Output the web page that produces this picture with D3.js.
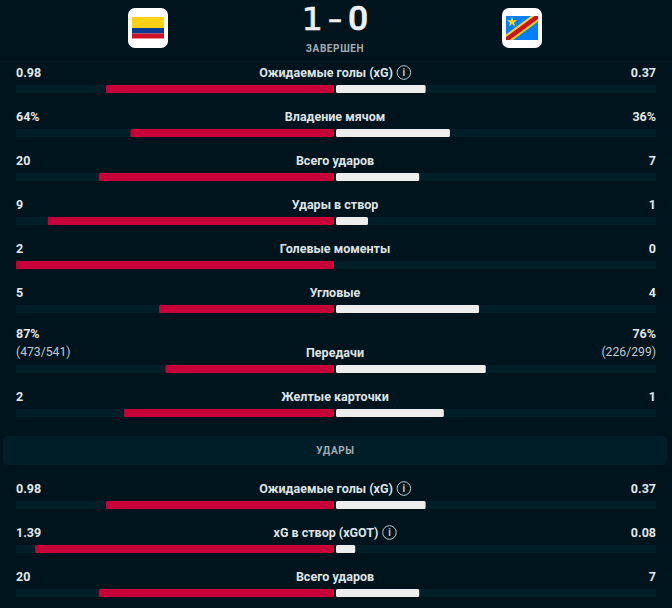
<!DOCTYPE html>
<html>
<head>
<meta charset="utf-8">
<style>
html, body { margin: 0; padding: 0; background: #00141e; overflow: hidden; }
text { font-family: Roboto, sans-serif; }
.val { font-size: 12.5px; font-weight: 700; fill: #e4e8ea; }
.sub { font-size: 12.2px; font-weight: 400; fill: #c3cacd; }
.name { font-size: 12.5px; font-weight: 700; fill: #dfe4e6; text-anchor: middle; }
.caps { font-size: 10px; font-weight: 700; fill: #a3adb2; text-anchor: middle; letter-spacing: 0.6px; }
.score { font-size: 33px; font-weight: 500; fill: #eef1f2; stroke: #eef1f2; stroke-width: 0.5px; text-anchor: middle; }
</style>
</head>
<body>
<svg id="chart" width="672" height="608"></svg>
<script src="https://d3js.org/d3.v7.min.js"></script>
<script>
var scoreParts = ["1", "-", "0"];
var status = "ЗАВЕРШЕН";
var sectionTitle = "УДАРЫ";

var names = ["Ожидаемые голы (xG)", "Владение мячом", "Всего ударов", "Удары в створ", "Голевые моменты", "Угловые", "Передачи", "Желтые карточки", "Ожидаемые голы (xG)", "xG в створ (xGOT)", "Всего ударов"];
var homeLabels = ["0.98", "64%", "20", "9", "2", "5", "87%", "2", "0.98", "1.39", "20"];
var awayLabels = ["0.37", "36%", "7", "1", "0", "4", "76%", "1", "0.37", "0.08", "7"];
var homeSub = ["", "", "", "", "", "", "(473/541)", "", "", "", ""];
var awaySub = ["", "", "", "", "", "", "(226/299)", "", "", "", ""];
// share of each half of the track, percent
var homeShare = [71.7, 64, 74, 90, 100, 55, 53, 66, 71.7, 94, 74];
var awayShare = [28, 35.6, 26, 10, 0, 44.7, 46.8, 33.7, 28, 6, 26];
var hasInfo = [true, false, false, false, false, false, false, false, true, true, false];
var sectionBefore = 8; // row index where the "shots" block starts

var svg = d3.select("#chart");
var centerX = 335;
var homeX = d3.scaleLinear().domain([0, 100]).range([334, 16]);
var awayX = d3.scaleLinear().domain([0, 100]).range([336, 656]);

// header
function roundedCard(x) {
  return svg.append("rect").attr("x", x).attr("y", 8).attr("width", 40).attr("height", 40).attr("rx", 7).attr("fill", "#fff");
}
roundedCard(128);
roundedCard(502);

var colombia = [["#fdd116", 17, 11], ["#0b3a94", 28, 5.5], ["#ce1126", 33.5, 4.5], ["#ef8a98", 38, 1]];
svg.selectAll(".co").data(colombia).enter().append("rect")
  .attr("x", 132).attr("width", 32)
  .attr("y", d => d[1]).attr("height", d => d[2])
  .attr("fill", d => d[0]);

svg.append("rect").attr("x", 506).attr("y", 16).attr("width", 32).attr("height", 24).attr("fill", "#007fff");
svg.append("polygon").attr("points", "506,34.5 531,16 538,16 538,21.5 513,40 506,40").attr("fill", "#f7d618");
svg.append("polygon").attr("points", "506,37 534.5,16 538,16 538,19 509.5,40 506,40").attr("fill", "#ce1021");
var star = d3.symbol().type(d3.symbolStar).size(34);
svg.append("path").attr("d", star()).attr("transform", "translate(512,22)").attr("fill", "#f7d618");

// score, each glyph placed on its own: the "1" needs a foot serif, the "0" no dot
svg.append("text").attr("class", "score").attr("transform", "translate(311.5,30) scale(1.1,1)")
  .style("font-family", "'DejaVu Sans Mono', monospace").style("font-size", "32px").style("font-weight", 400).text(scoreParts[0]);
svg.append("text").attr("class", "score").attr("transform", "translate(335,30) scale(1.35,1)")
  .style("font-family", "'DejaVu Sans Mono', monospace").style("font-size", "32px").style("font-weight", 400).text(scoreParts[1]);
svg.append("text").attr("class", "score").attr("transform", "translate(358,30) scale(1.08,1)").text(scoreParts[2]);

svg.append("text").attr("class", "caps").attr("x", centerX).attr("y", 52).text(status);
svg.append("line").attr("x1", 0).attr("x2", 672).attr("y1", 61.5).attr("y2", 61.5).attr("stroke", "#001a25");

// rows
var rowStep = 44, subExtra = 16, sectionExtra = 48;
var barH = 8;
var rowY = [];
names.reduce(function (y, n, i) {
  if (homeSub[i]) y += subExtra;
  if (i === sectionBefore) y += sectionExtra;
  rowY.push(y);
  return y + rowStep;
}, 85);

var panelY = rowY[sectionBefore] - 65;
svg.append("rect").attr("x", 3).attr("y", panelY).attr("width", 664).attr("height", 29).attr("rx", 5).attr("fill", "#001e28");
svg.append("text").attr("class", "caps").attr("x", centerX + 0.5).attr("y", panelY + 18).text(sectionTitle);

var rows = svg.selectAll(".row").data(names).enter().append("g")
  .attr("class", "row")
  .attr("transform", (d, i) => "translate(0," + rowY[i] + ")");

rows.append("rect").attr("x", homeX(100)).attr("y", 0)
  .attr("width", homeX(0) - homeX(100)).attr("height", barH).attr("rx", 1.5).attr("fill", "#001e28");
rows.append("rect").attr("x", awayX(0)).attr("y", 0)
  .attr("width", awayX(100) - awayX(0)).attr("height", barH).attr("rx", 1.5).attr("fill", "#001e28");

rows.append("rect")
  .attr("x", (d, i) => homeX(homeShare[i])).attr("y", 0)
  .attr("width", (d, i) => homeX(0) - homeX(homeShare[i])).attr("height", barH)
  .attr("rx", 1.5).attr("fill", "#c7003a");
rows.append("rect")
  .attr("x", awayX(0)).attr("y", 0)
  .attr("width", (d, i) => awayX(awayShare[i]) - awayX(0)).attr("height", barH)
  .attr("rx", 1.5).attr("fill", "#eeeeee");

rows.append("text").attr("class", "val").attr("x", 16)
  .attr("y", (d, i) => homeSub[i] ? -27 : -8).text((d, i) => homeLabels[i]);
rows.append("text").attr("class", "val").attr("x", 656).attr("text-anchor", "end")
  .attr("y", (d, i) => homeSub[i] ? -27 : -8).text((d, i) => awayLabels[i]);
rows.append("text").attr("class", "sub").attr("x", 16).attr("y", -9).text((d, i) => homeSub[i]);
rows.append("text").attr("class", "sub").attr("x", 656).attr("text-anchor", "end").attr("y", -9).text((d, i) => awaySub[i]);

rows.each(function (d, i) {
  var g = d3.select(this);
  var t = g.append("text").attr("class", "name").attr("y", -8).attr("x", centerX).text(d);
  if (!hasInfo[i]) return;
  var w = t.node().getComputedTextLength();
  t.attr("x", centerX - 9);
  var cx = centerX - 9 + w / 2 + 11;
  g.append("circle").attr("cx", cx).attr("cy", -12.5).attr("r", 6.8)
    .attr("fill", "none").attr("stroke", "#c3cacd").attr("stroke-width", 1);
  g.append("text").attr("x", cx).attr("y", -9).attr("text-anchor", "middle")
    .style("font-size", "10px").style("font-weight", 700).attr("fill", "#c3cacd").text("i");
});
</script>
</body>
</html>
